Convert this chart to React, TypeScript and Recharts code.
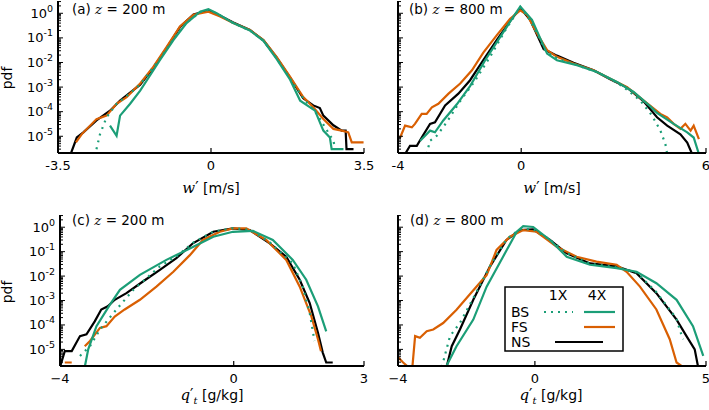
import React from "react";
import { LineChart, Line, XAxis, YAxis } from "recharts";

type Pt = [number, number | null];

// log-scale y range shared by all four panels
const Y_MIN = 2.09e-6;
const Y_MAX = 3.16;
const MAJOR_TICKS = [1e-5, 1e-4, 1e-3, 1e-2, 1e-1, 1];
const MINOR_MULT = [2, 3, 4, 5, 6, 7, 8, 9];
const DECADES = [1e-6, 1e-5, 1e-4, 1e-3, 1e-2, 1e-1, 1];

const GREEN = "#1b9e77";
const ORANGE = "#d95f02";
const BLACK = "#000000";

// (a) w' at z = 200 m
const A_BS1: Pt[] = [
  [-2.62, 3.0e-6], [-2.54, 1.2e-5], [-2.39, 5.9e-5], [-2.16, 2.1e-4], [-1.85, 5.6e-4],
  [-1.62, 1.3e-3], [-1.17, 0.014], [-0.86, 0.089], [-0.56, 0.42], [-0.25, 1.12],
  [-0.06, 1.38], [0.13, 1.0], [0.51, 0.4], [0.89, 0.2], [1.2, 0.078], [1.5, 0.015],
  [1.81, 2.2e-3], [2.11, 3.5e-4], [2.42, 8.1e-5], [2.61, 2.3e-5], [2.8, 6.6e-6], [2.84, 3.0e-6],
];
const A_BS4: Pt[] = [
  [-2.31, 2.7e-5], [-2.16, 1.05e-5], [-2.08, 6.9e-5], [-1.85, 2.1e-4], [-1.62, 7.2e-4],
  [-1.17, 0.0123], [-0.86, 0.081], [-0.56, 0.4], [-0.25, 1.17], [-0.06, 1.48], [0.13, 1.0],
  [0.51, 0.4], [0.89, 0.2], [1.2, 0.076], [1.5, 0.014], [1.81, 2.0e-3], [2.04, 2.8e-4],
  [2.38, 1.1e-4], [2.57, 1.7e-5], [2.72, 8.9e-6], [2.76, 3.0e-6], [3.03, 3.0e-6],
];
const A_FS: Pt[] = [
  [-3.09, 5.6e-6], [-2.96, 1.2e-5], [-2.62, 5.0e-5], [-2.39, 6.9e-5], [-2.16, 2.1e-4],
  [-1.93, 3.9e-4], [-1.62, 1.4e-3], [-1.32, 6.6e-3], [-1.01, 0.044], [-0.71, 0.29],
  [-0.4, 0.87], [-0.06, 1.17], [0.21, 0.74], [0.51, 0.4], [0.89, 0.21], [1.2, 0.081],
  [1.5, 0.017], [1.81, 2.6e-3], [2.11, 3.9e-4], [2.34, 1.5e-4], [2.57, 5.0e-5], [2.8, 2.0e-5],
  [2.99, 1.7e-5], [3.14, 1.45e-5], [3.22, 5.6e-6], [3.49, 5.6e-6],
];
const A_NS: Pt[] = [
  [-3.21, 1.9e-6], [-3.07, 8.9e-6], [-2.92, 1.45e-5], [-2.62, 4.4e-5], [-2.31, 1.1e-4],
  [-2.08, 2.8e-4], [-1.62, 1.26e-3], [-1.32, 6.0e-3], [-1.01, 0.04], [-0.71, 0.275],
  [-0.4, 0.89], [-0.06, 1.32], [0.21, 0.79], [0.51, 0.42], [0.89, 0.21], [1.2, 0.079],
  [1.5, 0.016], [1.81, 2.4e-3], [2.11, 3.5e-4], [2.34, 1.8e-4], [2.49, 1.4e-4], [2.57, 6.9e-5],
  [2.8, 2.8e-5], [2.99, 1.7e-5], [3.08, 1.7e-5], [3.1, 3.0e-6], [3.26, 3.0e-6],
];

// (b) w' at z = 800 m
const B_BS1: Pt[] = [
  [-3.07, 1.9e-6], [-2.96, 6.6e-6], [-2.74, 1.05e-5], [-2.42, 3.7e-5], [-2.0, 2.5e-4],
  [-1.5, 1.8e-3], [-1.0, 0.018], [-0.5, 0.22], [-0.03, 1.78], [0.3, 0.5], [0.8, 0.028],
  [1.2, 0.014], [1.8, 7.9e-3], [2.46, 4.1e-3], [3.0, 1.8e-3], [3.33, 1.0e-3], [3.87, 2.8e-4],
  [4.25, 6.9e-5], [4.52, 1.7e-5], [4.68, 4.9e-6], [4.74, 1.9e-6],
];
const B_BS4: Pt[] = [
  [-3.28, 6.6e-6], [-2.96, 1.7e-5], [-2.8, 1.45e-5], [-2.53, 4.4e-5], [-2.09, 2.0e-4],
  [-1.66, 1.1e-3], [-1.17, 0.0123], [-0.68, 0.11], [-0.25, 0.74], [-0.03, 1.9],
  [0.35, 0.54], [0.84, 0.023], [1.16, 0.0123], [1.81, 7.8e-3], [2.46, 4.1e-3], [3.11, 1.6e-3],
  [3.65, 6.3e-4], [4.2, 1.6e-4], [4.41, 8.9e-5], [4.95, 3.2e-5], [5.39, 1.45e-5],
  [5.6, 8.9e-6], [5.77, 1.9e-6],
];
const B_FS: Pt[] = [
  [-3.93, 8.9e-6], [-3.77, 2.7e-5], [-3.55, 2.3e-5], [-3.45, 3.2e-5], [-3.23, 8.1e-5],
  [-3.07, 8.1e-5], [-2.9, 1.5e-4], [-2.69, 2.1e-4], [-2.36, 5.4e-4], [-1.98, 1.4e-3],
  [-1.6, 4.8e-3], [-1.23, 0.025], [-0.79, 0.13], [-0.36, 0.6], [-0.03, 1.32], [0.19, 0.87],
  [0.51, 0.155], [0.84, 0.032], [1.16, 0.017], [1.7, 9.1e-3], [2.35, 4.8e-3], [2.89, 2.2e-3],
  [3.44, 1.0e-3], [3.98, 2.8e-4], [4.52, 8.1e-5], [4.74, 5.9e-5], [4.95, 3.2e-5],
  [5.17, 2.0e-5], [5.33, 3.2e-5], [5.5, 1.7e-5], [5.6, 2.7e-5], [5.77, 7.6e-6],
];
const B_NS: Pt[] = [
  [-3.77, 1.9e-6], [-3.61, 4.1e-6], [-3.39, 4.1e-6], [-3.23, 8.9e-6], [-2.96, 3.2e-5],
  [-2.8, 3.7e-5], [-2.47, 1.8e-4], [-2.04, 5.4e-4], [-1.66, 1.9e-3], [-1.23, 0.0126],
  [-0.79, 0.083], [-0.36, 0.48], [-0.03, 1.62], [0.29, 0.54], [0.73, 0.035], [1.16, 0.019],
  [1.7, 0.0098], [2.35, 4.8e-3], [2.89, 2.1e-3], [3.44, 9.5e-4], [3.98, 2.6e-4],
  [4.41, 5.9e-5], [4.74, 2.7e-5], [5.17, 1.2e-5], [5.39, 5.6e-6], [5.55, 1.9e-6],
];

// (c) q_t' at z = 200 m
const C_BS1: Pt[] = [
  [-3.54, 5.4e-6], [-3.31, 1.35e-5], [-3.08, 6.5e-5], [-2.7, 4.3e-4], [-2.31, 2.75e-3],
  [-1.7, 0.025], [-1.32, 0.063], [-0.94, 0.23], [-0.47, 0.66], [-0.02, 0.91], [0.37, 0.79],
  [0.83, 0.24], [1.36, 0.033], [1.59, 3.7e-3], [1.75, 3.1e-4], [1.86, 2.2e-5],
];
const C_BS4: Pt[] = [
  [-3.43, 1.9e-6], [-3.35, 1.0e-5], [-3.16, 8.9e-5], [-2.85, 6.8e-4], [-2.62, 2.75e-3],
  [-2.16, 0.0112], [-1.55, 0.046], [-1.01, 0.135], [-0.47, 0.41], [-0.02, 0.65], [0.44, 0.71],
  [0.9, 0.3], [1.36, 0.046], [1.67, 7.1e-3], [1.94, 5.8e-4], [2.13, 5.5e-5],
];
const C_FS: Pt[] = [
  [-3.89, 2.9e-6], [-3.73, 2.9e-6], [-3.6, null],
  [-3.43, 1.35e-5], [-3.31, 2.2e-5], [-3.08, 7.6e-5], [-2.93, 8.9e-5], [-2.74, 2.2e-4],
  [-2.51, 4.3e-4], [-2.16, 1.07e-3], [-1.78, 3.7e-3], [-1.39, 0.015], [-1.01, 0.072],
  [-0.71, 0.3], [-0.32, 0.65], [-0.02, 0.89], [0.29, 0.89], [0.75, 0.3], [1.21, 0.046],
  [1.52, 3.7e-3], [1.79, 2.2e-4], [1.94, 2.6e-5], [2.01, 8.5e-6],
];
const C_NS: Pt[] = [
  [-4.0, 1.9e-6], [-3.89, 8.5e-6], [-3.73, 8.5e-6], [-3.54, 3.5e-5], [-3.39, 4.1e-5],
  [-3.2, 1.4e-4], [-3.05, 4.3e-4], [-2.9, 5.8e-4], [-2.74, 1.07e-3], [-2.47, 2.0e-3],
  [-2.09, 6.0e-3], [-1.7, 0.018], [-1.32, 0.054], [-0.94, 0.22], [-0.47, 0.65], [-0.02, 0.89],
  [0.37, 0.76], [0.83, 0.22], [1.21, 0.062], [1.52, 7.1e-3], [1.75, 7.9e-4], [1.94, 4.8e-5],
  [2.05, 7.4e-6], [2.13, 2.9e-6], [2.28, 2.9e-6],
];

// (d) q_t' at z = 800 m
const D_BS1: Pt[] = [
  [-2.72, 1.9e-6], [-2.48, 3.5e-5], [-2.19, 1.2e-4], [-1.8, 1.26e-3], [-1.31, 0.026],
  [-0.83, 0.32], [-0.44, 0.83], [-0.05, 0.83], [0.44, 0.31], [0.93, 0.089], [1.61, 0.032],
  [2.39, 0.023], [2.97, 0.0138], [3.55, 2.2e-3], [4.14, 1.8e-4], [4.23, 6.5e-5], [4.33, 2.6e-5],
];
const D_BS4: Pt[] = [
  [-2.6, 1.9e-6], [-2.29, 1.35e-5], [-1.8, 1.66e-4], [-1.41, 3.7e-3], [-0.93, 0.062],
  [-0.53, 0.65], [-0.34, 1.1], [-0.05, 1.02], [0.44, 0.3], [0.93, 0.062], [1.61, 0.029],
  [2.39, 0.021], [2.97, 0.015], [3.55, 5.1e-3], [4.14, 1.07e-3], [4.62, 8.9e-5], [4.92, 5.4e-6],
];
const D_FS: Pt[] = [
  [-3.99, 4.6e-6], [-3.85, 2.9e-6], [-3.7, 1.9e-6], [-3.58, 1.9e-6], [-3.5, 3.5e-5],
  [-3.36, 3.0e-5], [-3.16, 5.5e-5], [-2.97, 6.5e-5], [-2.68, 1.2e-4], [-2.29, 4.2e-4],
  [-1.9, 1.8e-3], [-1.41, 0.011], [-1.12, 0.117], [-0.73, 0.41], [-0.34, 0.76], [0.05, 0.65],
  [0.63, 0.16], [1.22, 0.062], [1.8, 0.039], [2.39, 0.029], [2.68, 0.015], [3.07, 3.7e-3],
  [3.55, 4.3e-4], [3.94, 2.6e-5], [4.14, 2.9e-6], [4.33, 1.9e-6],
];
const D_NS: Pt[] = [
  [-2.58, 1.9e-6], [-2.43, 1.35e-5], [-2.19, 6.5e-5], [-1.8, 1.07e-3], [-1.31, 0.025],
  [-0.83, 0.3], [-0.44, 0.76], [-0.05, 0.81], [0.44, 0.3], [0.93, 0.085], [1.61, 0.033],
  [2.39, 0.025], [2.97, 0.013], [3.55, 2.0e-3], [4.14, 1.66e-4], [4.43, 3.5e-5], [4.67, 1.0e-5],
  [4.77, 1.9e-6],
];

const FONT = "DejaVu Sans";
const MATH = "DejaVu Serif";

const yTicks = [
  ...MAJOR_TICKS,
  ...DECADES.flatMap((d) => MINOR_MULT.map((m) => m * d)),
].filter((v) => v >= Y_MIN && v <= Y_MAX);

const YTick = (props: any) => {
  const { x, y, payload, showLabel } = props;
  const lg = Math.log10(payload.value);
  const e = Math.round(lg);
  const major = Math.abs(lg - e) < 1e-6;
  return (
    <g>
      <line x1={x} x2={x + (major ? 5 : 3)} y1={y} y2={y} stroke="#000" strokeWidth={1} />
      {major && showLabel && (
        <text x={x - 5} y={y + 4.5} textAnchor="end" fontFamily={FONT} fontSize={13} fill="#000">
          10<tspan dy={-6} fontSize={9.5}>{e}</tspan>
        </text>
      )}
    </g>
  );
};

const XTick = (props: any) => {
  const { x, y, payload, fmt } = props;
  return (
    <g>
      <line x1={x} x2={x} y1={y} y2={y - 5} stroke="#000" strokeWidth={1.2} />
      <text x={x} y={y + 17} textAnchor="middle" fontFamily={FONT} fontSize={13} fill="#000">
        {fmt(payload.value)}
      </text>
    </g>
  );
};

type Series = { pts: Pt[]; color: string; dotted?: boolean };

function Panel(p: {
  left: number; top: number; width: number; height: number; mTop: number; mRight: number;
  yw: number; xh: number; xDomain: [number, number]; xTicks: number[];
  fmt: (v: number) => string; showY: boolean; series: Series[];
}) {
  return (
    <div style={{ position: "absolute", left: p.left, top: p.top }}>
      <LineChart width={p.width} height={p.height} margin={{ top: p.mTop, right: p.mRight, left: 0, bottom: 0 }}>
        <XAxis
          type="number"
          dataKey="x"
          domain={p.xDomain}
          ticks={p.xTicks}
          interval={0}
          allowDataOverflow
          height={p.xh}
          tickSize={0}
          tickMargin={0}
          tickLine={false}
          axisLine={{ stroke: "#000", strokeWidth: 2 }}
          tick={(t: any) => <XTick {...t} fmt={p.fmt} />}
        />
        <YAxis
          type="number"
          scale="log"
          domain={[Y_MIN, Y_MAX]}
          ticks={yTicks}
          interval={0}
          allowDataOverflow
          width={p.yw}
          tickSize={0}
          tickMargin={0}
          tickLine={false}
          axisLine={{ stroke: "#000", strokeWidth: 2 }}
          tick={(t: any) => <YTick {...t} showLabel={p.showY} />}
        />
        {p.series.map((s, i) => (
          <Line
            key={i}
            data={s.pts.map(([x, y]) => ({ x, y }))}
            dataKey="y"
            type="linear"
            stroke={s.color}
            strokeWidth={2.2}
            strokeDasharray={s.dotted ? "2 5" : undefined}
            dot={false}
            activeDot={false}
            isAnimationActive={false}
          />
        ))}
      </LineChart>
    </div>
  );
}

const hy = (v: number) => String(v);
const mn = (v: number) => (v < 0 ? "\u2212" + String(-v) : String(v));

const Title = ({ x, y, tag, z }: { x: number; y: number; tag: string; z: string }) => (
  <text x={x} y={y} fontFamily={FONT} fontSize={13.5} fill="#000">
    {tag + " "}
    <tspan fontFamily={MATH} fontStyle="italic">z</tspan>
    {" = " + z + " m"}
  </text>
);

const WLabel = ({ cx, y }: { cx: number; y: number }) => (
  <text x={cx} y={y} textAnchor="middle" fontFamily={FONT} fontSize={14} fill="#000">
    <tspan fontFamily={MATH} fontStyle="italic" fontSize={15}>w</tspan>
    <tspan fontSize={15}>{"\u2032"}</tspan>
    <tspan>{" [m/s]"}</tspan>
  </text>
);

const QLabel = ({ cx, y }: { cx: number; y: number }) => (
  <text x={cx} y={y} textAnchor="middle" fontFamily={FONT} fontSize={14} fill="#000">
    <tspan fontFamily={MATH} fontStyle="italic" fontSize={15}>q</tspan>
    <tspan fontSize={15}>{"\u2032"}</tspan>
    <tspan fontFamily={MATH} fontStyle="italic" fontSize={10} dy={4}>t</tspan>
    <tspan dy={-4}>{" [g/kg]"}</tspan>
  </text>
);

const PdfLabel = ({ x, cy }: { x: number; cy: number }) => (
  <text
    x={x}
    y={cy}
    transform={`rotate(-90 ${x} ${cy})`}
    textAnchor="middle"
    fontFamily={FONT}
    fontSize={14}
    fill="#000"
  >
    pdf
  </text>
);

export default function App() {
  return (
    <div style={{ position: "absolute", left: 0, top: 0, width: 709, height: 410, background: "#fff", overflow: "hidden" }}>
      <Panel left={0} top={0} width={380} height={200} mTop={1} mRight={16} yw={58} xh={47}
        xDomain={[-3.5, 3.5]} xTicks={[-3.5, 0, 3.5]} fmt={hy} showY
        series={[
          { pts: A_NS, color: BLACK },
          { pts: A_FS, color: ORANGE },
          { pts: A_BS1, color: GREEN, dotted: true },
          { pts: A_BS4, color: GREEN },
        ]} />
      <Panel left={380} top={0} width={329} height={200} mTop={1} mRight={3} yw={18} xh={47}
        xDomain={[-4, 6]} xTicks={[-4, 0, 6]} fmt={hy} showY={false}
        series={[
          { pts: B_NS, color: BLACK },
          { pts: B_FS, color: ORANGE },
          { pts: B_BS1, color: GREEN, dotted: true },
          { pts: B_BS4, color: GREEN },
        ]} />
      <Panel left={0} top={205} width={380} height={205} mTop={10} mRight={16} yw={60} xh={44}
        xDomain={[-4, 3]} xTicks={[-4, 0, 3]} fmt={mn} showY
        series={[
          { pts: C_NS, color: BLACK },
          { pts: C_FS, color: ORANGE },
          { pts: C_BS1, color: GREEN, dotted: true },
          { pts: C_BS4, color: GREEN },
        ]} />
      <Panel left={380} top={205} width={329} height={205} mTop={10} mRight={3} yw={18} xh={44}
        xDomain={[-4, 5]} xTicks={[-4, 0, 5]} fmt={mn} showY={false}
        series={[
          { pts: D_NS, color: BLACK },
          { pts: D_FS, color: ORANGE },
          { pts: D_BS1, color: GREEN, dotted: true },
          { pts: D_BS4, color: GREEN },
        ]} />
      <svg width={709} height={410} style={{ position: "absolute", left: 0, top: 0, pointerEvents: "none" }}>
        <Title x={72} y={14} tag="(a)" z="200" />
        <Title x={409} y={14} tag="(b)" z="800" />
        <Title x={72} y={225} tag="(c)" z="200" />
        <Title x={410} y={225} tag="(d)" z="800" />
        <WLabel cx={211} y={193} />
        <WLabel cx={552} y={193} />
        <QLabel cx={212} y={400} />
        <QLabel cx={551} y={400} />
        <PdfLabel x={12} cy={78} />
        <PdfLabel x={12} cy={292} />
        <rect x={505} y={287} width={118} height={64} fill="#fff" stroke="#000" strokeWidth={1.5} />
        <text x={558} y={300} textAnchor="middle" fontFamily={FONT} fontSize={14}>1X</text>
        <text x={597} y={300} textAnchor="middle" fontFamily={FONT} fontSize={14}>4X</text>
        <text x={511} y={317} fontFamily={FONT} fontSize={14}>BS</text>
        <text x={511} y={332} fontFamily={FONT} fontSize={14}>FS</text>
        <text x={511} y={347} fontFamily={FONT} fontSize={14}>NS</text>
        <line x1={544} x2={573} y1={312} y2={312} stroke={GREEN} strokeWidth={2.2} strokeDasharray="2 5" />
        <line x1={584} x2={615} y1={312} y2={312} stroke={GREEN} strokeWidth={2.2} />
        <line x1={584} x2={615} y1={327} y2={327} stroke={ORANGE} strokeWidth={2.2} />
        <line x1={555} x2={603} y1={342} y2={342} stroke={BLACK} strokeWidth={2.2} />
      </svg>
    </div>
  );
}
